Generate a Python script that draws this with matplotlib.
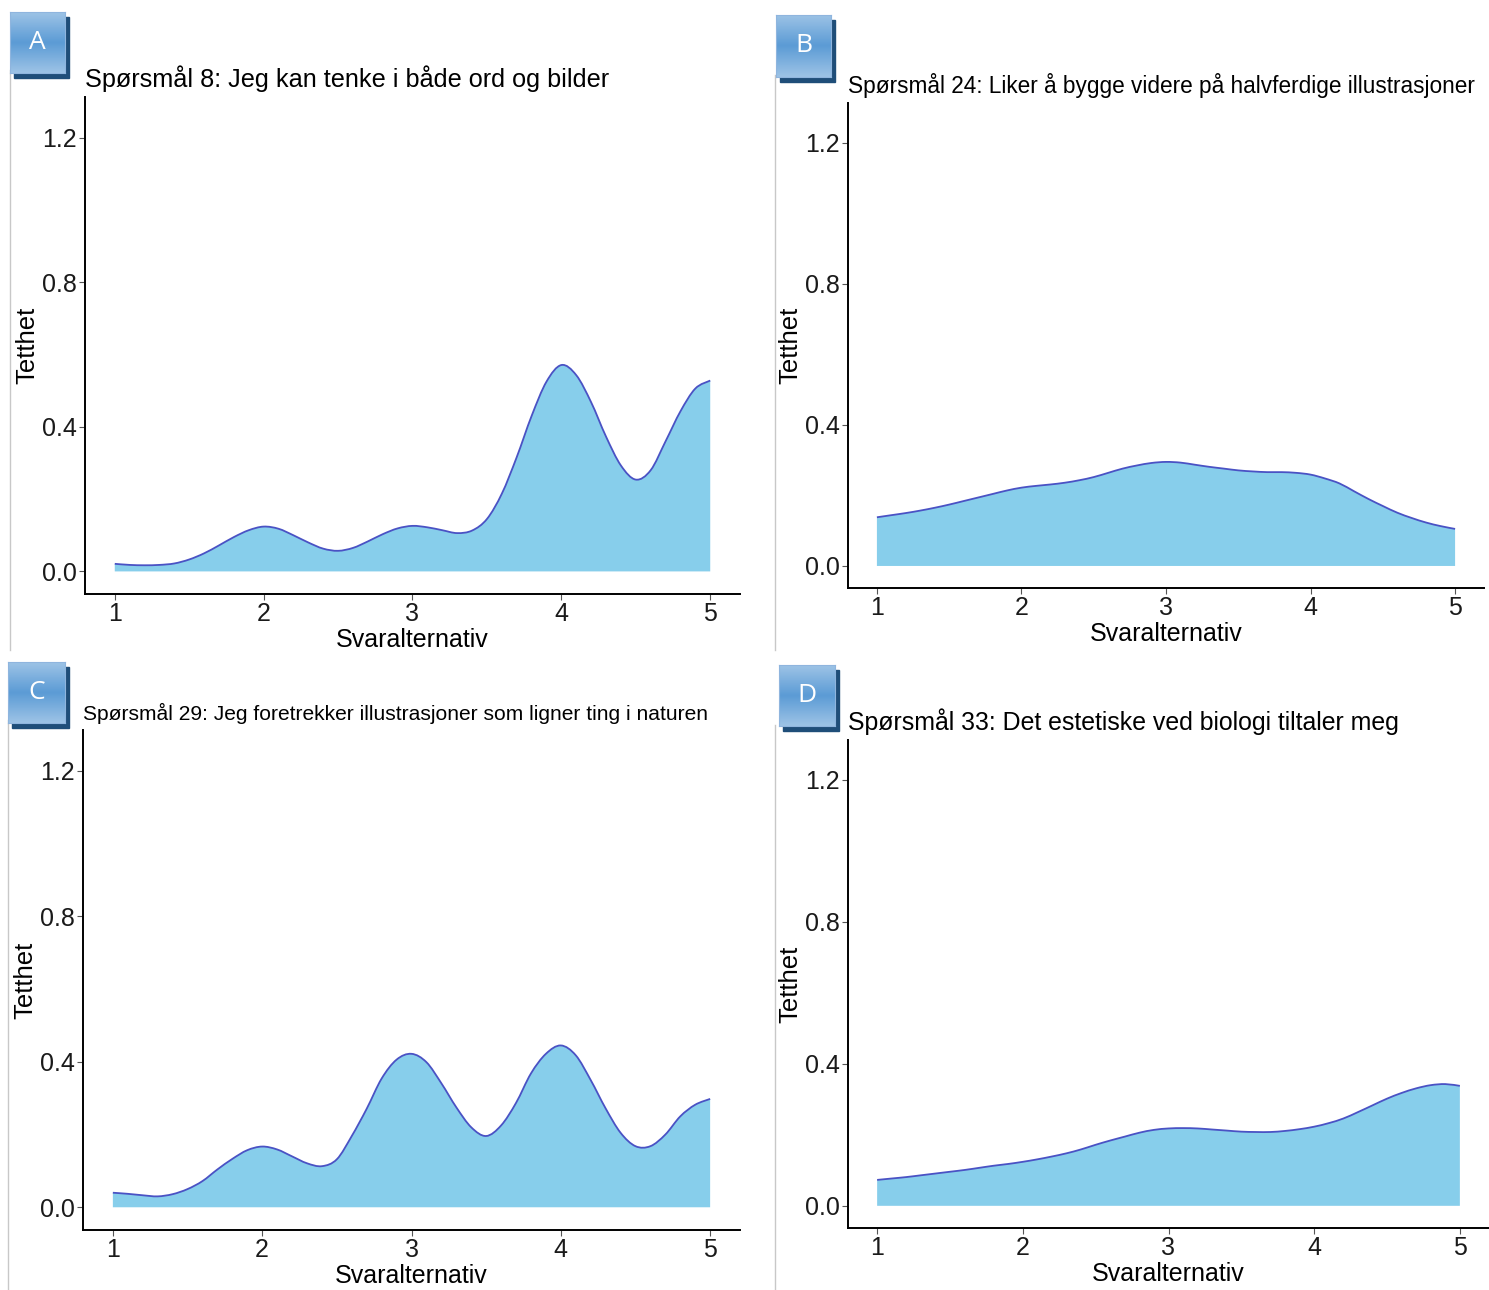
import numpy as np
import matplotlib
matplotlib.use("Agg")
import matplotlib.pyplot as plt
from matplotlib.patches import Rectangle, PathPatch
from matplotlib.lines import Line2D
from matplotlib.path import Path

plt.rcParams["font.family"] = ["Liberation Sans", "DejaVu Sans"]

svar = np.round(np.arange(1.0, 5.01, 0.1), 1)

dens_a = [0.021, 0.018, 0.017, 0.018, 0.022, 0.033, 0.050, 0.072, 0.095, 0.114,
          0.124, 0.118, 0.100, 0.080, 0.063, 0.057, 0.065, 0.083, 0.103, 0.119,
          0.126, 0.122, 0.114, 0.106, 0.113, 0.145, 0.215, 0.316, 0.430, 0.525,
          0.571, 0.543, 0.468, 0.373, 0.293, 0.254, 0.280, 0.360, 0.443, 0.506,
          0.528]
dens_b = [0.138, 0.144, 0.150, 0.157, 0.165, 0.174, 0.184, 0.194, 0.204, 0.214,
          0.222, 0.227, 0.231, 0.236, 0.243, 0.252, 0.264, 0.276, 0.285, 0.292,
          0.295, 0.293, 0.287, 0.281, 0.276, 0.271, 0.268, 0.266, 0.266, 0.264,
          0.259, 0.248, 0.234, 0.212, 0.190, 0.170, 0.151, 0.136, 0.123, 0.113,
          0.105]
dens_c = [0.040, 0.037, 0.033, 0.030, 0.036, 0.050, 0.072, 0.104, 0.133, 0.157,
          0.167, 0.159, 0.140, 0.121, 0.113, 0.132, 0.196, 0.271, 0.354, 0.406,
          0.422, 0.399, 0.341, 0.275, 0.220, 0.196, 0.225, 0.287, 0.368, 0.422,
          0.445, 0.418, 0.350, 0.272, 0.205, 0.168, 0.168, 0.200, 0.250, 0.282,
          0.298]
dens_d = [0.073, 0.077, 0.081, 0.086, 0.091, 0.096, 0.101, 0.107, 0.113, 0.118,
          0.124, 0.131, 0.139, 0.148, 0.159, 0.172, 0.184, 0.195, 0.206, 0.214,
          0.218, 0.219, 0.218, 0.215, 0.212, 0.209, 0.208, 0.208, 0.211, 0.216,
          0.223, 0.233, 0.246, 0.264, 0.283, 0.302, 0.318, 0.331, 0.340, 0.343,
          0.338]

titles = [
    "Spørsmål 8: Jeg kan tenke i både ord og bilder",
    "Spørsmål 24: Liker å bygge videre på halvferdige illustrasjoner",
    "Spørsmål 29: Jeg foretrekker illustrasjoner som ligner ting i naturen",
    "Spørsmål 33: Det estetiske ved biologi tiltaler meg",
]
letters = ["A", "B", "C", "D"]
xticks = [1, 2, 3, 4, 5]
yticks = [0.0, 0.4, 0.8, 1.2]

W, H = 1489, 1290
fig = plt.figure(figsize=(W / 100, H / 100), dpi=100)


def rect(x0, y0, x1, y1):
    # pixel box (top-left origin) -> figure fraction
    return [x0 / W, 1 - y1 / H, (x1 - x0) / W, (y1 - y0) / H]


def curve_path(x, y, close=False):
    # smooth bezier through the read points (catmull-rom handles)
    x = np.asarray(x, float)
    y = np.asarray(y, float)
    n = len(x)
    verts = [(x[0], y[0])]
    codes = [Path.MOVETO]
    for i in range(n - 1):
        a, b = max(i - 1, 0), min(i + 2, n - 1)
        c1 = (x[i] + (x[i + 1] - x[a]) / 6, y[i] + (y[i + 1] - y[a]) / 6)
        c2 = (x[i + 1] - (x[b] - x[i]) / 6, y[i + 1] - (y[b] - y[i]) / 6)
        verts += [c1, c2, (x[i + 1], y[i + 1])]
        codes += [Path.CURVE4] * 3
    if close:
        verts += [(x[-1], 0), (x[0], 0), (x[0], y[0])]
        codes += [Path.LINETO, Path.LINETO, Path.CLOSEPOLY]
    return Path(verts, codes)


panel_boxes = [(85, 97, 740, 594), (848, 103, 1484, 588),
               (83, 730, 740, 1230), (848, 740, 1489, 1228)]
title_sizes = [18.2, 16.3, 15.1, 17.9]
label_boxes = [(10, 12, 65, 73), (776, 15, 831, 77),
               (8, 662, 65, 723), (779, 665, 835, 726)]

for dens, title, box, tsize in zip([dens_a, dens_b, dens_c, dens_d], titles,
                                   panel_boxes, title_sizes):
    ax = fig.add_axes(rect(*box))
    ax.add_patch(PathPatch(curve_path(svar, dens, close=True),
                           facecolor="#87CEEB", edgecolor="none"))
    ax.add_patch(PathPatch(curve_path(svar, dens), facecolor="none",
                           edgecolor="#4a52c4", lw=1.3))
    ax.set_xlim(0.8, 5.2)
    ax.set_ylim(-0.0625, 1.3125)
    ax.set_xticks(xticks)
    ax.set_yticks(yticks)
    ax.set_yticklabels([f"{v:.1f}" for v in yticks])
    for s in ["top", "right"]:
        ax.spines[s].set_visible(False)
    for s in ["left", "bottom"]:
        ax.spines[s].set_linewidth(1.4)
        ax.spines[s].set_color("black")
    ax.tick_params(length=4, width=0.8, color="#555555", labelsize=18,
                   labelcolor="#1a1a1a", pad=2)
    ax.set_xlabel("Svaralternativ", fontsize=18, labelpad=1)
    ax.set_ylabel("Tetthet", fontsize=18.5, labelpad=2)
    ax.set_title(title, loc="left", fontsize=tsize, pad=7)

# the coloured letter tags in the corners
grad = np.linspace(0, 1, 64).reshape(-1, 1)
tag_cmap = matplotlib.colors.LinearSegmentedColormap.from_list(
    "tag", ["#9dc3e6", "#5b9bd5", "#9dc3e6"])
for (x0, y0, x1, y1), letter in zip(label_boxes, letters):
    fig.add_artist(Rectangle((x0 / W + 4 / W, 1 - (y1 + 5) / H),
                             (x1 - x0) / W, (y1 - y0) / H,
                             transform=fig.transFigure, color="#1f4e79",
                             zorder=4))
    tag = fig.add_axes(rect(x0, y0, x1, y1))
    tag.set_zorder(6)
    tag.imshow(grad, aspect="auto", cmap=tag_cmap, extent=[0, 1, 0, 1])
    tag.set_xticks([])
    tag.set_yticks([])
    for s in tag.spines.values():
        s.set_color("#8fb5de")
    tag.text(0.5, 0.5, letter, color="white", fontsize=19, ha="center",
             va="center", family=["Open Sans", "DejaVu Sans"])

# thin borders of the pasted sub-figures
for x, y0, y1 in [(10, 70, 650), (775, 75, 650), (8, 720, 1290), (775, 725, 1290)]:
    fig.add_artist(Line2D([x / W, x / W], [1 - y0 / H, 1 - y1 / H],
                          color="#c8c8c8", lw=1))

fig.savefig("out.png", dpi=100)
